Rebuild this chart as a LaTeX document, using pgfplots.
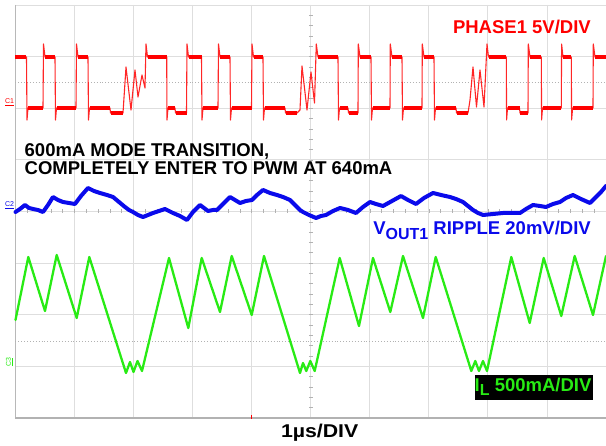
\documentclass[border=0pt]{standalone}
\usepackage{fontspec}
\setmainfont{Liberation Sans}
\usepackage{graphicx}
\usepackage{pgfplots}
\pgfplotsset{compat=1.18}
\definecolor{trred}{RGB}{255,0,0}
\definecolor{trblue}{RGB}{10,10,235}
\definecolor{trgreen}{RGB}{40,235,20}
\definecolor{gridc}{RGB}{222,222,222}
\begin{document}
\begin{tikzpicture}
\path[use as bounding box] (0,0) rectangle (606pt,446pt);
\begin{axis}[
  at={(15.5pt,28pt)}, anchor=south west, scale only axis,
  width=590.5pt, height=413pt,
  xmin=15.5, xmax=606, ymin=5, ymax=418, y dir=reverse,
  xtick={15.5,74.55,133.6,192.65,251.7,310.75,369.8,428.85,487.9,546.95},
  ytick={5,56.625,108.25,159.875,211.5,263.125,314.75,366.375,418},
  xticklabels={}, yticklabels={}, major tick length=0pt,
  grid=major, major grid style={draw=gridc, line width=0.9pt},
  axis line style={draw=none}, clip=false,
  unbounded coords=jump,
  every axis plot/.append style={line join=round, line cap=round},
]
% frame and decorations
\draw[black!28, line width=1.1pt] (axis cs:15.5,5) -- (axis cs:15.5,418);
\draw[black!30, line width=1.4pt] (axis cs:15.5,418) -- (axis cs:606,418);
\draw[black!30, dotted, line width=0.9pt] (axis cs:15.5,82) -- (axis cs:606,82);
\draw[black!30, dotted, line width=0.9pt] (axis cs:15.5,341) -- (axis cs:606,341);
\pgfplotsinvokeforeach{1,...,49}{\draw[black!30, line width=0.6pt] (axis cs:{15.5+#1*11.81},209.5) -- (axis cs:{15.5+#1*11.81},213.5);}
\pgfplotsinvokeforeach{1,...,39}{\draw[black!30, line width=0.6pt] (axis cs:308.75,{5+#1*10.325}) -- (axis cs:312.75,{5+#1*10.325});}
\draw[trred, line width=1pt] (axis cs:251.7,415) -- (axis cs:251.7,419);

% PHASE trace (thin full trace)
\addplot[trred!85, line width=1.1pt] coordinates {
(15.5,57)(26.5,57)(27,120)(28,108)(43,108)(43.5,44)(45,57)(55,57)(55.5,120)(56.5,108)
(76,108)(76.5,44)(78,57)(88,57)(88.5,120)(89.5,108)(110,108)(110.5,113)(123,113)
(126,67)(131,110)(135,70)(138,97)(142,75)(145,88)(146,44)(147.5,57)(166.7,57)(167,120)(168,108)
(175,108)(175.5,113)(186.5,113)(187,44)(188.5,57)(201.5,57)(202,120)(203,108)(218,108)(218.5,44)(220,57)
(230,57)(230.5,120)(231.5,108)(251.5,108)(252,44)(253.5,57)(263,57)(263.5,120)(264.5,108)
(285,108)(285.5,113)(297,113)(300,110)(302,66)(307,110)(311,72)(314.5,103)(316.3,44)(318,57)
(338,57)(338.5,120)(339.5,108)(348,108)(348.5,113)(358,113)(358.3,44)(360,57)(371,57)(371.5,120)(372.5,108)
(390,108)(390.3,44)(392,57)(402,57)(402.5,120)(403.5,108)(422,108)(422.3,44)(424,57)(434,57)(434.5,120)(435.5,108)
(456,108)(456.5,113)(468,113)(470,100)(473,67)(476.5,107)(480,70)(484,107)(487,44)(488.5,57)
(506.3,57)(506.6,120)(507.5,108)(519.5,108)(520,113)(528,113)(528.3,44)(530,57)(541.3,57)(541.6,120)(542.5,108)
(561.3,108)(561.6,44)(563,57)(571.3,57)(571.6,120)(572.6,108)(593,108)(593.3,44)(595,57)(606,57)
};
% PHASE trace plateaus (noisy band)
\addplot[trred, line width=4.2pt, line cap=butt] coordinates {
(15.5,57)(26.5,57)(26.5,nan)(45,57)(55,57)(55,nan)(78,57)(88,57)(88,nan)(147.5,57)(166.7,57)(166.7,nan)
(188.5,57)(201.5,57)(201.5,nan)(220,57)(230,57)(230,nan)(253.5,57)(263,57)(263,nan)(318,57)(338,57)(338,nan)
(360,57)(371,57)(371,nan)(392,57)(402,57)(402,nan)(424,57)(434,57)(434,nan)(488.5,57)(506.3,57)(506.3,nan)
(530,57)(541.3,57)(541.3,nan)(563,57)(571.3,57)(571.3,nan)(595,57)(606,57)(606,nan)
(28,108)(43,108)(43,nan)(56.5,108)(76,108)(76,nan)(89.5,108)(110,108)(110,nan)(168,108)(175,108)(175,nan)
(203,108)(218,108)(218,nan)(231.5,108)(251.5,108)(251.5,nan)(264.5,108)(285,108)(285,nan)(339.5,108)(348,108)(348,nan)
(372.5,108)(390,108)(390,nan)(403.5,108)(422,108)(422,nan)(435.5,108)(456,108)(456,nan)(507.5,108)(519.5,108)(519.5,nan)
(542.5,108)(561.3,108)(561.3,nan)(572.6,108)(593,108)(593,nan)
(110.5,113)(123,113)(123,nan)(175.5,113)(186.5,113)(186.5,nan)(285.5,113)(297,113)(297,nan)
(348.5,113)(358,113)(358,nan)(456.5,113)(468,113)(468,nan)(520,113)(528,113)
};

% VOUT ripple trace
\addplot[trblue, line width=4pt] coordinates {
(15.5,212)(20,209)(25,205)(29,208)(33,209)(38,210)(43,212)(48,205)(53,197)(58,200)(63,202)(69,203)(75,204)
(81,196)(88,188)(94,191)(100,193)(107,195)(113,197)(119,202)(125,207)(129,210)(133,212)(138,215)(143,217)
(148,215)(153,213)(159,211)(165,209)(169,211)(173,213)(180,216)(187,220)(190,216)(193,212)(197,208)(200,205)
(204,208)(208,211)(213,210)(217,210)(223,204)(230,197)(235,200)(240,203)(246,201)(252,200)(257,195)(263,190)
(270,193)(277,195)(283,197)(290,200)(295,205)(300,210)(303,212)(309,215)(316,218)(321,216)(326,215)(333,211)
(340,208)(348,210)(356,213)(363,207)(370,202)(376,204)(383,206)(392,201)(401,196)(408,200)(416,204)(424,198)
(433,193)(441,195)(450,197)(456,199)(463,202)(468,206)(473,210)(478,213)(483,215)(493,214)(503,213)(511,213)
(520,213)(526,209)(533,205)(540,206)(546,207)(553,204)(560,202)(566,198)(573,195)(581,199)(590,203)(593,200)
(596,197)(601,192)(606,186)
};

% Inductor current trace
\addplot[trgreen, line width=2.3pt] coordinates {
(15.5,320)(28.3,257)(45,311)(56.7,255)(76.7,318)(89.3,257)(126,373)(130,362)(133.5,372)(137.5,361)(142,371)
(169,258)(188.3,328)(201.7,258)(220,312)(231.7,256)(251.7,315)(264,256)(300,373)(303,363)(306.3,371)(310.3,361)
(314.7,371)(339.7,258)(359,326)(373,258)(390.3,312)(403,256)(423,318)(435.7,257)(471.3,371)(475.3,361)(479,371)
(483,361)(487,371)(511.3,257)(529.7,323)(543.7,258)(561.3,316)(574.7,256)(593,315)(606,256)
};

% channel markers
\node[text=trred, font=\fontsize{7}{7}\selectfont, inner sep=0pt] at (axis cs:9.5,102) {\underline{C1}};
\node[text=trblue, font=\fontsize{7}{7}\selectfont, inner sep=0pt] at (axis cs:9.5,205) {\underline{C2}};
\node[text=trgreen, font=\fontsize{7}{7}\selectfont, inner sep=0pt, rotate=90] at (axis cs:9.5,362) {\underline{C3}};

% labels
\node[anchor=base east, text=trred, font=\bfseries\fontsize{18.5}{20}\selectfont, inner sep=0pt] at (axis cs:591,33.3) {PHASE1 5V/DIV};
\node[anchor=base west, text=black, font=\bfseries\fontsize{18.5}{20}\selectfont, inner sep=0pt] at (axis cs:24.5,156.7) {600mA MODE TRANSITION,};
\node[anchor=base west, text=black, font=\bfseries\fontsize{18.5}{20}\selectfont, inner sep=0pt] at (axis cs:24.5,175) {COMPLETELY ENTER TO PWM AT 640mA};
\node[anchor=base east, text=trblue, font=\bfseries\fontsize{18.5}{20}\selectfont, inner sep=0pt] at (axis cs:591,235) {V\raisebox{-5pt}{\fontsize{16}{16}\selectfont OUT1} RIPPLE 20mV/DIV};
\fill[black] (axis cs:474.7,374.7) rectangle (axis cs:593,399.7);
\node[anchor=base west, text=trgreen, font=\bfseries\fontsize{18.5}{20}\selectfont, inner sep=0pt] at (axis cs:474.5,391.3) {I\raisebox{-4.5pt}{\fontsize{16}{16}\selectfont L} 500mA/DIV};
\node[anchor=base, text=black, font=\bfseries\fontsize{18.5}{20}\selectfont, inner sep=0pt] at (axis cs:319.7,437.3) {\scalebox{1.15}[1]{1µs/DIV}};
\end{axis}
\end{tikzpicture}
\end{document}
